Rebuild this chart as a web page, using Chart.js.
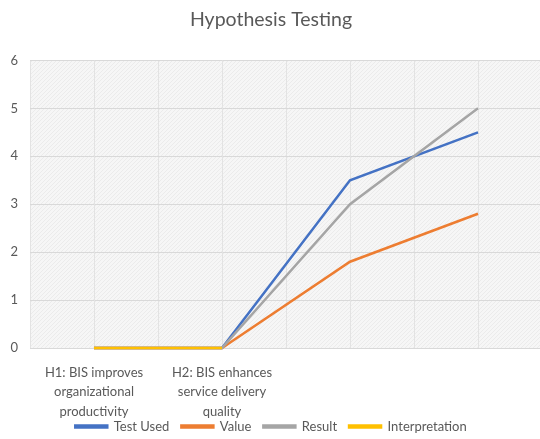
<!DOCTYPE html>
<html><head><meta charset="utf-8">
<script src="https://cdn.jsdelivr.net/npm/chart.js@4"></script>
<style>
html,body{margin:0;padding:0;background:#fff;overflow:hidden;}
#wrap{width:540px;height:439px;overflow:hidden;position:relative;}
canvas{display:block;}
</style></head>
<body><div id="wrap"><canvas id="c" width="545" height="439"></canvas></div>
<script>
const categories = [
  ['H1: BIS improves','organizational','productivity'],
  ['H2: BIS enhances','service delivery','quality'],
  '',
  ''
];
const testUsed = [0, 0, 3.5, 4.5];
const valueSeries = [0, 0, 1.8, 2.8];
const resultSeries = [0, 0, 3.0, 5.0];
const interpretation = [0, 0, null, null];
const yTicks = [0,1,2,3,4,5,6];

function makePattern(){
  const p = document.createElement('canvas');
  p.width = 4; p.height = 4;
  const g = p.getContext('2d');
  g.fillStyle = '#f6f6f6'; g.fillRect(0,0,4,4);
  g.fillStyle = '#ebebeb';
  g.fillRect(0,0,1,1); g.fillRect(2,2,1,1);
  g.fillRect(1,3,1,1); g.fillRect(3,1,1,1);
  return p;
}

const bgPlugin = {
  id:'bg',
  beforeDraw(chart){
    const {ctx, chartArea:a} = chart;
    ctx.save();
    ctx.fillStyle = ctx.createPattern(makePattern(),'repeat');
    ctx.fillRect(a.left, a.top, a.right-a.left, a.bottom-a.top);
    ctx.restore();
  },
  beforeDatasetsDraw(chart){
    const {ctx, chartArea:a, scales} = chart;
    const x = scales.x;
    ctx.save();
    ctx.strokeStyle = '#e3e3e3';
    ctx.lineWidth = 1;
    for(let i=0;i<categories.length;i++){
      const px = Math.round(x.getPixelForValue(i))+0.5;
      ctx.beginPath(); ctx.moveTo(px,a.top); ctx.lineTo(px,a.bottom); ctx.stroke();
    }
    ctx.restore();
  }
};

const mk = (label, data, color, order) => ({
  label, data, borderColor: color, backgroundColor: color, order,
  borderWidth: 2.5, pointRadius: 0, tension: 0, spanGaps: false, clip: 4
});

new Chart(document.getElementById('c'), {
  type:'line',
  data:{
    labels: categories,
    datasets:[
      mk('Test Used', testUsed, '#4472C4', 3),
      mk('Value', valueSeries, '#ED7D31', 2),
      mk('Result', resultSeries, '#A5A5A5', 1),
      mk('Interpretation', interpretation, '#FFC000', 0)
    ]
  },
  options:{
    responsive:false,
    animation:false,
    layout:{padding:{left:0,right:3,top:4,bottom:-4}},
    plugins:{
      title:{display:true,text:'Hypothesis Testing',color:'#595959',
        font:{family:'Lato',size:19.5,weight:'normal'},padding:{top:4,bottom:29}},
      legend:{position:'bottom',
        labels:{color:'#595959',font:{family:'Lato',size:13},boxWidth:32,boxHeight:2,padding:12,
          sort:(a,b)=>a.datasetIndex-b.datasetIndex}},
      tooltip:{enabled:false}
    },
    scales:{
      x:{
        offset:true,
        afterFit(s){ s.height = 60; s._computeLabelArea = function(){ return undefined; }; },
        grid:{offset:true,color:'#e3e3e3',drawTicks:false},
        border:{display:true,color:'#d9d9d9'},
        ticks:{color:'#595959',font:{family:'Lato',size:13,lineHeight:1.5},maxRotation:0,autoSkip:false,padding:15}
      },
      y:{
        min:0,max:6,
        afterBuildTicks(s){ s.ticks = yTicks.map(v=>({value:v})); },
        afterFit(s){ s.width = 30; },
        grid:{color:'#d9d9d9',drawTicks:false},
        border:{display:false},
        ticks:{color:'#595959',font:{family:'Lato',size:13},padding:12}
      }
    }
  },
  plugins:[bgPlugin]
});
</script></body></html>
